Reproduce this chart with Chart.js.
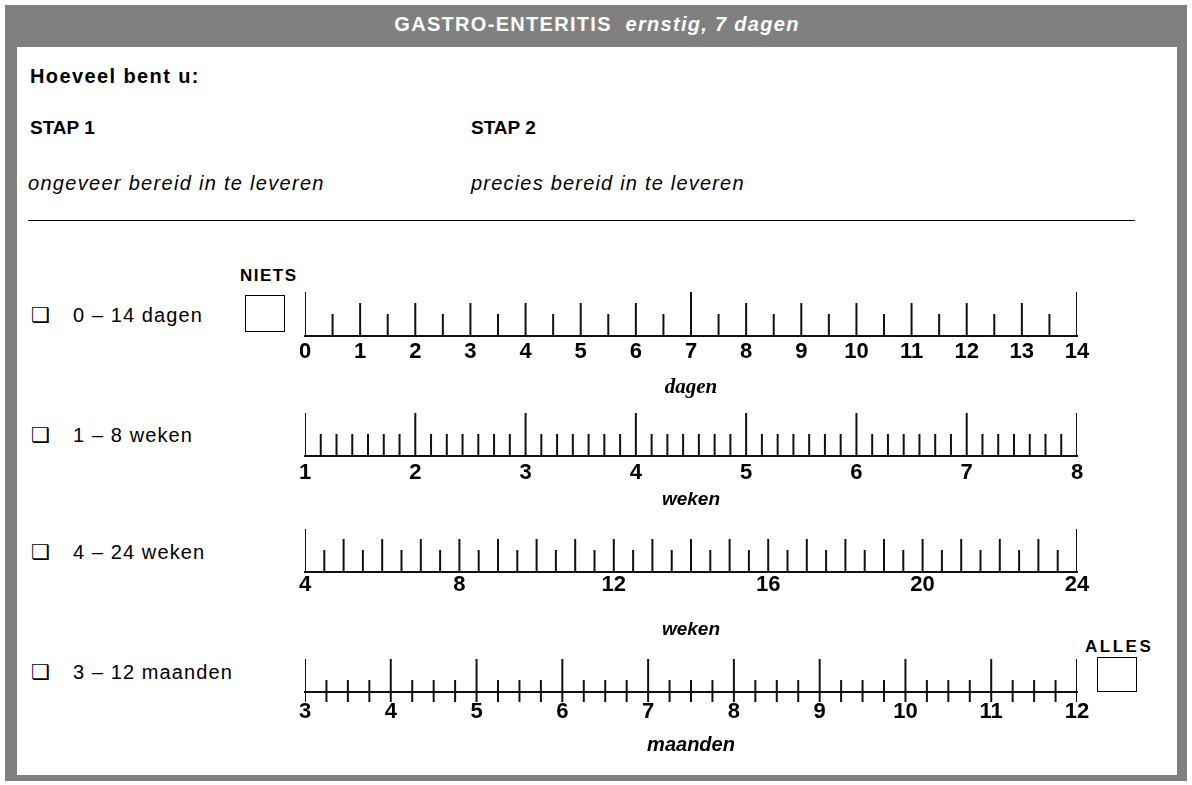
<!DOCTYPE html>
<html>
<head>
<meta charset="utf-8">
<script src="https://cdn.jsdelivr.net/npm/chart.js@4.4.1/dist/chart.umd.min.js"></script>
<style>
body { margin: 0; width: 1192px; height: 785px; background: #fff; position: relative; overflow: hidden;
  font-family: "Liberation Sans", Arial, sans-serif; }
#frame { position: absolute; left: 5px; top: 5px; width: 1182px; height: 776px; background: #808080; }
#inner { position: absolute; left: 17px; top: 47px; width: 1160px; height: 728px; background: #fff; }
.t { position: absolute; white-space: nowrap; color: #000; line-height: 20px; }
.box { position: absolute; border: 1.5px solid #000; box-sizing: border-box; }
.chk { position: absolute; font-family: "DejaVu Sans"; font-size: 21px; line-height: 20px; }
.row { font-size: 20px; letter-spacing: 1.1px; }
canvas { position: absolute; }
</style>
</head>
<body>
<div id="frame"></div>
<div id="inner"></div>

<div class="t" style="left:17px;width:1160px;text-align:center;top:14px;color:#fff;font-weight:bold;font-size:20px;letter-spacing:1.3px">GASTRO-ENTERITIS&nbsp;&nbsp;<i>ernstig, 7 dagen</i></div>

<div class="t" style="left:30px;top:66px;font-weight:bold;font-size:20px;letter-spacing:1.4px">Hoeveel bent u:</div>
<div class="t" style="left:30px;top:118px;font-weight:bold;font-size:19px">STAP 1</div>
<div class="t" style="left:471px;top:118px;font-weight:bold;font-size:19px">STAP 2</div>
<div class="t" style="left:28px;top:173px;font-style:italic;font-size:20px;letter-spacing:1.3px">ongeveer bereid in te leveren</div>
<div class="t" style="left:471px;top:173px;font-style:italic;font-size:20px;letter-spacing:1.2px">precies bereid in te leveren</div>
<div style="position:absolute;left:28px;top:220px;width:1107px;height:1px;background:#000"></div>

<div class="t" style="left:240px;top:266px;font-weight:bold;font-size:17px;letter-spacing:1.5px">NIETS</div>
<div class="box" style="left:245px;top:295px;width:40px;height:37px"></div>
<div class="t" style="left:1085px;top:637px;font-weight:bold;font-size:17px;letter-spacing:2.5px">ALLES</div>
<div class="box" style="left:1097px;top:657px;width:40px;height:35px"></div>

<div class="chk" style="left:31px;top:305px">❏</div>
<div class="t row" style="left:73px;top:305px">0 – 14 dagen</div>
<div class="chk" style="left:31px;top:425px">❏</div>
<div class="t row" style="left:73px;top:425px">1 – 8 weken</div>
<div class="chk" style="left:31px;top:542px">❏</div>
<div class="t row" style="left:73px;top:542px">4 – 24 weken</div>
<div class="chk" style="left:31px;top:662px">❏</div>
<div class="t row" style="left:73px;top:662px">3 – 12 maanden</div>

<script>
// schalen: eenheid, bereik, getallen onder de lijn
var rulerUnits = ['dagen', 'weken', 'weken', 'maanden'];
var rulerMin = [0, 1, 4, 3];
var rulerMax = [14, 8, 24, 12];
var rulerLabels = [
  [0, 1, 2, 3, 4, 5, 6, 7, 8, 9, 10, 11, 12, 13, 14],
  [1, 2, 3, 4, 5, 6, 7, 8],
  [4, 8, 12, 16, 20, 24],
  [3, 4, 5, 6, 7, 8, 9, 10, 11, 12]
];
// streepjes per eenheid, en de lange streepjes
var rulerDivisions = [2, 7, 2, 4];
var rulerLongMarks = [
  [0, 7, 14],
  [1, 2, 3, 4, 5, 6, 7, 8],
  [4, 24],
  [3, 4, 5, 6, 7, 8, 9, 10, 11, 12]
];

// opmaak
var baseY = [336, 456, 572, 692];
var markSize = [
  { long: [0, 44], mid: [0, 33], short: [0, 22] },
  { long: [0, 43], mid: [0, 43], short: [0, 22] },
  { long: [0, 43], mid: [0, 33], short: [0, 22] },
  { long: [-10, 33], mid: [-10, 33], short: [-10, 12] }
];
var labelPad = [3, 4, 0, 7];
var titleGap = [52, 44, 58, 53];
var titleFonts = [
  { family: 'Liberation Serif', size: 21, weight: 'bold', style: 'italic' },
  { family: 'Liberation Sans', size: 19, weight: 'bold', style: 'italic' },
  { family: 'Liberation Sans', size: 19, weight: 'bold', style: 'italic' },
  { family: 'Liberation Sans', size: 20, weight: 'bold', style: 'italic' }
];
var AXIS_H = 70;

function buildMarks(i) {
  var marks = [];
  var n = Math.round((rulerMax[i] - rulerMin[i]) * rulerDivisions[i]);
  for (var k = 0; k <= n; k++) {
    var v = rulerMin[i] + k / rulerDivisions[i];
    var isInt = Math.abs(v - Math.round(v)) < 1e-6;
    if (isInt) v = Math.round(v);
    var size = markSize[i].short;
    if (isInt && rulerLongMarks[i].indexOf(v) >= 0) size = markSize[i].long;
    else if (isInt) size = markSize[i].mid;
    marks.push({ x: v, y: size });
  }
  return marks;
}

rulerUnits.forEach(function (unit, i) {
  var cv = document.createElement('canvas');
  cv.width = 860;
  cv.height = 128;
  cv.style.left = '265px';
  cv.style.top = (baseY[i] - 46) + 'px';
  document.body.appendChild(cv);

  var tf = titleFonts[i];
  new Chart(cv, {
    type: 'bar',
    data: {
      datasets: [{
        data: buildMarks(i),
        backgroundColor: '#111',
        barThickness: 2,
        grouped: false,
        inflateAmount: 0,
        borderWidth: 0
      }]
    },
    options: {
      responsive: false,
      animation: false,
      devicePixelRatio: 1,
      events: [],
      layout: { padding: { left: 40, right: 48, top: 0, bottom: AXIS_H } },
      plugins: { legend: { display: false }, tooltip: { enabled: false } },
      scales: {
        y: { display: false, min: -12, max: 46 },
        x: {
          type: 'linear',
          min: rulerMin[i],
          max: rulerMax[i],
          offset: false,
          position: { y: 0 },
          grid: { display: true, drawOnChartArea: false, drawTicks: false, offset: false },
          border: { display: true, color: '#111', width: 2 },
          afterBuildTicks: function (s) {
            s.ticks = rulerLabels[i].map(function (v) { return { value: v }; });
          },
          afterFit: function (s) { s.height = AXIS_H; },
          ticks: {
            color: '#000',
            autoSkip: false,
            maxRotation: 0,
            padding: labelPad[i],
            font: { family: 'Liberation Sans', size: 22, weight: 'bold' }
          },
          title: {
            display: true,
            text: unit,
            color: '#000',
            font: tf,
            padding: { top: 0, bottom: AXIS_H - tf.size * 1.2 / 2 - titleGap[i] }
          }
        }
      }
    }
  });
});
</script>
</body>
</html>
